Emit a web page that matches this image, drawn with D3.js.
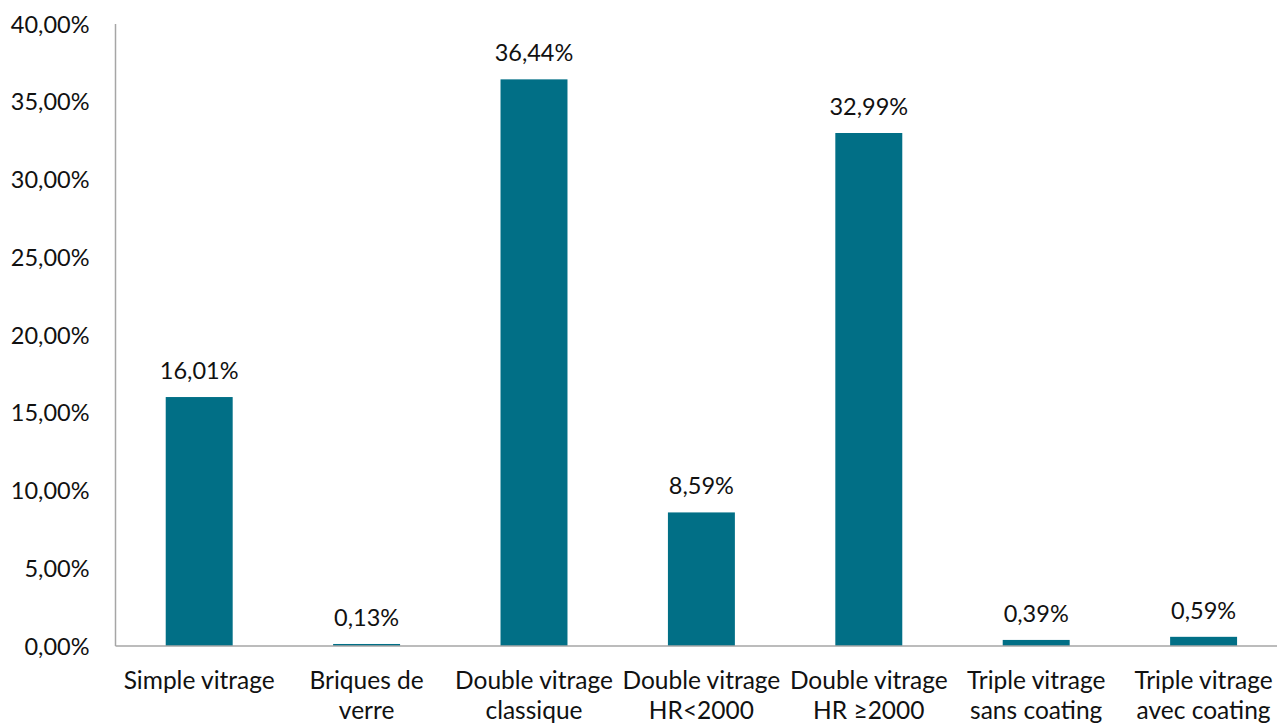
<!DOCTYPE html>
<html>
<head>
<meta charset="utf-8">
<script src="https://cdn.jsdelivr.net/npm/d3@7"></script>
<style>
  html, body { margin: 0; padding: 0; background: #ffffff; }
  svg { display: block; }
  text { font-family: Lato, "Open Sans", sans-serif; fill: #111111; }
</style>
</head>
<body>
<svg id="chart" width="1277" height="724"></svg>
<script>
// Glazing types (two-line labels) and their share
const categories = [
  ["Simple vitrage"],
  ["Briques de", "verre"],
  ["Double vitrage", "classique"],
  ["Double vitrage", "HR<2000"],
  ["Double vitrage", "HR \u22652000"],
  ["Triple vitrage", "sans coating"],
  ["Triple vitrage", "avec coating"]
];
const shares = [16.01, 0.13, 36.44, 8.59, 32.99, 0.39, 0.59];
const yTicks = [0, 5, 10, 15, 20, 25, 30, 35, 40];

const svg = d3.select("#chart");
const margin = { left: 115.5, top: 24, bottom: 646 };
const bandWidth = 167.4;
const keys = categories.map(c => c.join(" "));
const numSize = "23.5px";
const catSize = "24.5px";

const x = d3.scaleBand()
  .domain(keys)
  .range([margin.left, margin.left + bandWidth * keys.length])
  .paddingInner(0.6)
  .paddingOuter(0.3);

const y = d3.scaleLinear().domain([0, 40]).range([margin.bottom, margin.top]);

const fmt = v => d3.format(".2f")(v).replace(".", ",") + "%";

// Y axis labels
const yAxis = d3.axisLeft(y).tickValues(yTicks).tickFormat(fmt).tickSize(0).tickPadding(26);
const gy = svg.append("g").attr("transform", `translate(${margin.left},0)`).call(yAxis);
gy.select(".domain").remove();
gy.selectAll("text").style("font-size", numSize).attr("dy", "0.35em");

// Bars
svg.append("g").selectAll("rect")
  .data(shares)
  .join("rect")
  .attr("x", (d, i) => x(keys[i]))
  .attr("width", x.bandwidth())
  .attr("y", d => y(d))
  .attr("height", d => y(0) - y(d))
  .attr("fill", "#016F86");

// Value labels
svg.append("g").selectAll("text")
  .data(shares)
  .join("text")
  .attr("x", (d, i) => x(keys[i]) + x.bandwidth() / 2)
  .attr("y", d => y(d) - 18)
  .attr("text-anchor", "middle")
  .style("font-size", numSize)
  .text(d => fmt(d));

// Axis lines
svg.append("line")
  .attr("x1", margin.left).attr("x2", margin.left)
  .attr("y1", y(40)).attr("y2", y(0))
  .attr("stroke", "#a6a6a6").attr("stroke-width", 1.5);
svg.append("line")
  .attr("x1", margin.left).attr("x2", 1277)
  .attr("y1", y(0)).attr("y2", y(0))
  .attr("stroke", "#a6a6a6").attr("stroke-width", 1.5);

// Category labels
const cat = svg.append("g").selectAll("text")
  .data(categories)
  .join("text")
  .attr("x", (d, i) => x(keys[i]) + x.bandwidth() / 2)
  .attr("y", 689)
  .attr("text-anchor", "middle")
  .style("font-size", catSize);
cat.selectAll("tspan")
  .data(d => d)
  .join("tspan")
  .attr("x", function () { return this.parentNode.getAttribute("x"); })
  .attr("dy", (d, i) => i === 0 ? 0 : 30)
  .text(d => d);
</script>
</body>
</html>
